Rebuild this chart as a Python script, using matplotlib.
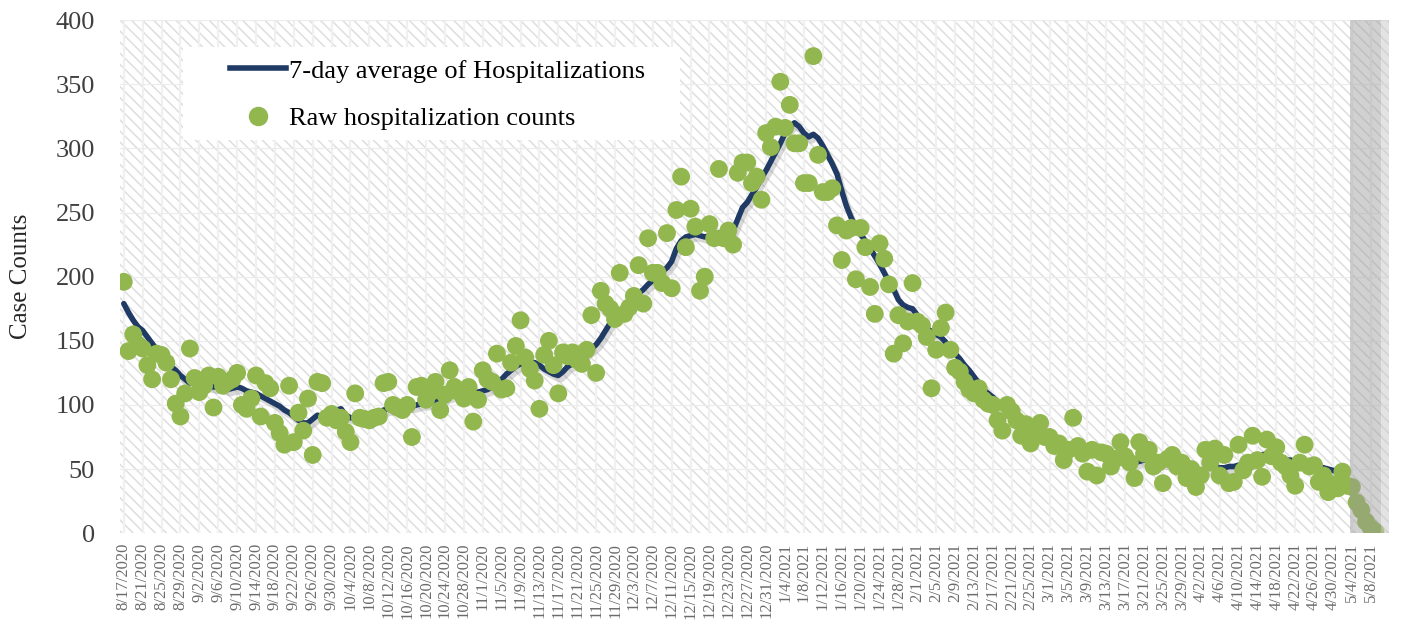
import numpy as np
import pandas as pd
import matplotlib
matplotlib.use('Agg')
import matplotlib.pyplot as plt
import matplotlib.dates as mdates
import matplotlib.patheffects as pe
from matplotlib.patches import Rectangle
from matplotlib.lines import Line2D

plt.rcParams['font.family'] = ['Liberation Serif', 'DejaVu Serif']
plt.rcParams['hatch.linewidth'] = 1.1

START = '2020-08-17'

# raw daily hospitalization counts, 8/17/2020 onward
raw_counts = [
    196, 142, 155, 147, 144, 131, 120, 140, 139, 133,
    120, 101, 91, 109, 144, 121, 110, 115, 123, 98,
    122, 115, 118, 120, 125, 100, 97, 105, 123, 91,
    117, 113, 86, 78, 69, 115, 71, 94, 80, 105,
    61, 118, 117, 90, 93, 88, 90, 79, 71, 109,
    90, 89, 88, 90, 91, 117, 118, 100, 98, 96,
    100, 75, 114, 115, 104, 110, 118, 96, 108, 127,
    114, 110, 105, 114, 87, 104, 127, 120, 118, 140,
    112, 113, 133, 146, 166, 137, 128, 119, 97, 139,
    150, 131, 109, 141, 138, 141, 135, 132, 143, 170,
    125, 189, 179, 175, 167, 203, 171, 176, 185, 209,
    179, 230, 203, 203, 195, 234, 191, 252, 278, 223,
    253, 239, 189, 200, 241, 230, 284, 230, 236, 225,
    281, 289, 289, 273, 278, 260, 312, 301, 317, 352,
    316, 334, 304, 304, 273, 273, 372, 295, 266, 266,
    269, 240, 213, 236, 238, 198, 238, 223, 192, 171,
    226, 214, 194, 140, 170, 148, 165, 195, 165, 162,
    153, 113, 143, 160, 172, 143, 129, 126, 118, 112,
    109, 113, 104, 101, 100, 88, 80, 100, 95, 88,
    76, 85, 70, 80, 86, 75, 75, 68, 70, 57,
    65, 90, 68, 62, 48, 65, 45, 63, 62, 52,
    58, 71, 60, 55, 43, 71, 62, 65, 52, 55,
    39, 58, 61, 52, 55, 43, 50, 36, 45, 65,
    55, 66, 45, 61, 39, 40, 69, 49, 55, 76,
    57, 44, 73, 60, 67, 55, 52, 45, 37, 55,
    69, 52, 53, 40, 45, 32, 38, 35, 48, 37,
    36, 24, 18, 9, 4, 1,
]

# 7-day average line
avg_7day = [
    179, 172, 166, 161, 158, 153, 148, 143, 138, 134,
    130, 127, 123, 120, 117, 117, 116, 116, 115, 114,
    114, 113, 112, 113, 114, 113, 111, 110, 109, 107,
    105, 103, 101, 99, 96, 94, 91, 88, 86, 86,
    89, 92, 91, 93, 95, 96, 97, 92, 90, 90,
    90, 90, 91, 92, 94, 96, 97, 97, 98, 98,
    99, 99, 100, 101, 101, 102, 104, 105, 106, 107,
    108, 108, 108, 108, 109, 110, 111, 112, 114, 117,
    120, 124, 127, 130, 132, 133, 133, 133, 131, 128,
    126, 124, 123, 126, 130, 132, 135, 138, 141, 144,
    147, 152, 158, 164, 168, 172, 176, 180, 183, 187,
    190, 194, 197, 200, 204, 207, 212, 222, 228, 231,
    232, 233, 232, 231, 232, 233, 234, 233, 234, 236,
    245, 254, 258, 264, 270, 277, 283, 290, 297, 304,
    312, 317, 320, 317, 312, 309, 311, 308, 302, 295,
    288, 280, 267, 255, 246, 238, 233, 228, 222, 216,
    210, 203, 196, 190, 182, 178, 176, 175, 170, 165,
    160, 157, 155, 153, 149, 145, 140, 136, 131, 127,
    122, 117, 112, 109, 106, 102, 98, 94, 90, 88,
    86, 84, 82, 80, 78, 77, 75, 74, 73, 71,
    69, 68, 67, 67, 66, 65, 63, 61, 60, 59,
    58, 58, 57, 56, 55, 56, 57, 58, 57, 56,
    55, 54, 54, 53, 52, 51, 50, 49, 49, 50,
    51, 52, 51, 51, 52, 52, 53, 53, 54, 55,
    58, 61, 62, 61, 59, 58, 57, 57, 56, 56,
    55, 54, 53, 52, 51, 50, 49, 48, 44, 40,
    38,
]

raw_dates = pd.date_range(START, periods=len(raw_counts), freq='D')
avg_dates = pd.date_range(START, periods=len(avg_7day), freq='D')
tick_dates = pd.date_range(START, '2021-05-08', freq='4D')
tick_labels = [f"{d.month}/{d.day}/{d.year}" for d in tick_dates]

LINE_COLOR = '#1f3a64'
DOT_COLOR = '#93b74f'

fig = plt.figure(figsize=(14.05, 6.31), dpi=100)
ax = fig.add_axes([0.0854, 0.155, 0.903, 0.813])

x0 = mdates.date2num(pd.Timestamp(START)) - 0.8
x1 = mdates.date2num(pd.Timestamp(START)) + 267.8
ax.set_xlim(x0, x1)
ax.set_ylim(0, 400)

# hatched background with light vertical bands
ax.add_patch(Rectangle((0, 0), 1, 1, transform=ax.transAxes, facecolor='white',
                       edgecolor='#dedede', hatch='\\\\\\', lw=0, zorder=0))
for d in tick_dates:
    ax.axvline(d, color='#f0f0f0', lw=1.6, zorder=0.5)
for yv in range(50, 401, 50):
    ax.axhline(yv, color='#ececec', lw=0.8, zorder=0.5)

ax.plot(avg_dates, avg_7day, color=LINE_COLOR, lw=4, zorder=3,
        solid_capstyle='round',
        path_effects=[pe.SimpleLineShadow(offset=(2, -3), shadow_color='gray', alpha=0.3),
                      pe.Normal()])
ax.scatter(raw_dates, raw_counts, s=165, color=DOT_COLOR, edgecolor='none', zorder=4)

# shaded incomplete period
s0 = mdates.date2num(pd.Timestamp(START)) + 259.6
ax.axvspan(s0, s0 + 6.6, color='#9a9a9a', alpha=0.45, lw=0, zorder=5)
ax.axvspan(s0 + 6.6, x1, color='#c8c8c8', alpha=0.5, lw=0, zorder=5)

ax.set_xticks(tick_dates)
ax.set_xticklabels(tick_labels, rotation=90, fontsize=12, color='#6b6b6b')
ax.set_yticks(range(0, 401, 50))
ax.tick_params(axis='y', labelsize=19, colors='#404040', length=0, pad=18)
ax.tick_params(axis='x', length=0, pad=7)
for s in ax.spines.values():
    s.set_visible(False)
ax.set_ylabel('Case Counts', fontsize=18, color='#262626', labelpad=17)

# legend box
ax.add_patch(Rectangle((0.0497, 0.766), 0.392, 0.181, transform=ax.transAxes,
                       facecolor='white', edgecolor='none', zorder=6))
handles = [Line2D([], [], color=LINE_COLOR, lw=4),
           Line2D([], [], color=DOT_COLOR, marker='o', ms=13, ls='none')]
labels = ['7-day average of Hospitalizations', 'Raw hospitalization counts']
leg = ax.legend(handles, labels, loc='upper left', bbox_to_anchor=(0.0868, 0.924),
                frameon=False, fontsize=19, handlelength=2.1, handletextpad=0.15,
                labelspacing=0.92, borderpad=0, borderaxespad=0)
leg.set_zorder(7)

fig.savefig('out.png', dpi=100)
